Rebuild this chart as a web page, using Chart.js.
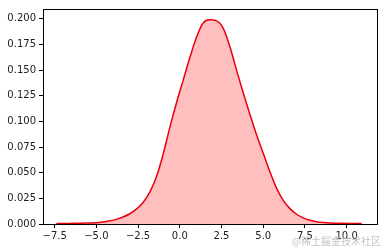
<!DOCTYPE html>
<html>
<head>
<meta charset="utf-8">
<script src="https://cdn.jsdelivr.net/npm/chart.js@4"></script>
<style>
  html, body { margin:0; padding:0; background:#fff; }
  #wrap { width:384px; height:248px; position:relative; }
</style>
</head>
<body>
<div id="wrap"><canvas id="kde"></canvas></div>
<script>
// density curve
const xs = [-7.4, -6.6, -5.8, -5.0, -4.4, -3.8, -3.4, -3.0, -2.6, -2.2, -1.8, -1.4, -1.0, -0.6, -0.2,
            0.2, 0.6, 1.0, 1.4, 1.8, 2.2, 2.6, 3.0, 3.4, 3.8, 4.2, 4.6, 5.0, 5.4, 5.8, 6.2, 6.6,
            7.0, 7.4, 7.8, 8.2, 8.6, 9.0, 9.6, 10.2, 10.9];
const density = [0.0005, 0.0006, 0.0008, 0.0013, 0.0025, 0.0045, 0.0068, 0.010, 0.0145, 0.021, 0.031, 0.046, 0.068, 0.094, 0.118,
                 0.140, 0.162, 0.182, 0.196, 0.199, 0.198, 0.191, 0.173, 0.150, 0.128, 0.107, 0.087, 0.069, 0.051, 0.035, 0.023, 0.015,
                 0.0095, 0.006, 0.0037, 0.0023, 0.0015, 0.0010, 0.0007, 0.0005, 0.0004];
const xTicks = [-7.5, -5.0, -2.5, 0.0, 2.5, 5.0, 7.5, 10.0];
const yTicks = [0, 0.025, 0.05, 0.075, 0.1, 0.125, 0.15, 0.175, 0.2];

const fmtMinus = s => s.replace('-', '\u2212');

// full box around the axes + watermark
const frame = {
  id:'frame',
  afterDatasetsDraw(chart){
    const a = chart.chartArea, c = chart.ctx;
    c.save();
    c.strokeStyle = '#000';
    c.lineWidth = 1;
    c.strokeRect(Math.round(a.left)+0.5, Math.round(a.top)+0.5, Math.round(a.right-a.left), Math.round(a.bottom-a.top));
    c.restore();
  },
  afterDraw(chart){
    const c = chart.ctx;
    c.save();
    c.font = '10px "Noto Sans CJK SC", "DejaVu Sans"';
    c.fillStyle = 'rgba(190,190,190,0.9)';
    c.textAlign = 'right';
    c.textBaseline = 'middle';
    c.fillText('@稀土掘金技术社区', 381, 241);
    c.restore();
  }
};

Chart.defaults.font.family = '"DejaVu Sans", sans-serif';
Chart.defaults.font.size = 10;
Chart.defaults.color = '#222';

new Chart(document.getElementById('kde'), {
  type:'line',
  data:{
    datasets:[{
      data: xs.map((x, i) => ({ x, y: density[i] })),
      borderColor:'#e8000b',
      borderWidth:1.5,
      backgroundColor:'rgba(255,0,0,0.25)',
      fill:'origin',
      pointRadius:0,
      cubicInterpolationMode:'monotone'
    }]
  },
  options:{
    responsive:true,
    maintainAspectRatio:false,
    animation:false,
    layout:{ padding:{ top:5, right:7, left:0, bottom:0 } },
    plugins:{ legend:{ display:false }, tooltip:{ enabled:false } },
    scales:{
      x:{
        type:'linear',
        min:-8.2, max:11.82,
        afterBuildTicks(s){ s.ticks = xTicks.map(v => ({ value:v })); },
        afterFit(s){ s.height = 24; },
        ticks:{ callback:v => fmtMinus(v.toFixed(1)), padding:2, maxRotation:0, autoSkip:false },
        grid:{ display:true, drawOnChartArea:false, drawTicks:true, tickLength:4, color:'#000' },
        border:{ display:true, color:'#000' }
      },
      y:{
        min:0, max:0.2096,
        afterBuildTicks(s){ s.ticks = yTicks.map(v => ({ value:v })); },
        afterFit(s){ s.width = 43; },
        ticks:{ callback:v => v.toFixed(3), padding:3 },
        grid:{ display:true, drawOnChartArea:false, drawTicks:true, tickLength:4, color:'#000' },
        border:{ display:true, color:'#000' }
      }
    }
  },
  plugins:[frame]
});
</script>
</body>
</html>
